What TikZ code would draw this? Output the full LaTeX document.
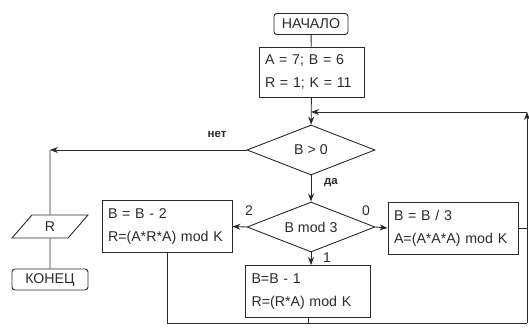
\documentclass[tikz,border=0pt]{standalone}
\usepackage{fontspec}
\setmainfont{Liberation Sans}
\usetikzlibrary{shapes.geometric,arrows.meta}

\definecolor{ink}{HTML}{2A2A2A}

\tikzset{
  base/.style={draw=ink, line width=0.9pt, text=ink, font=\fontsize{14.2}{23}\selectfont, inner sep=0pt},
  terminal/.style={base, rounded corners=3pt, minimum width=#1, minimum height=21},
  procbox/.style={base, rectangle, minimum width=130, minimum height=52, text width=118, align=left},
  decision/.style={base, diamond, minimum width=128, minimum height=50, aspect=2.56},
  iobox/.style={base, trapezium, trapezium left angle=60, trapezium right angle=120,
                trapezium stretches=true, minimum width=76, minimum height=23},
  link/.style={draw=ink, line width=0.9pt},
  flow/.style={link, -{Stealth[length=8pt,width=6pt]}},
  lbl/.style={text=ink, font=\fontsize{14}{16}\selectfont, inner sep=0pt},
  blbl/.style={text=ink, font=\bfseries\fontsize{11.5}{14}\selectfont, inner sep=0pt}
}

\begin{document}
\begin{tikzpicture}[x=1pt, y=-1pt]
  \useasboundingbox (0,0) rectangle (529,331);

  % blocks
  \node[terminal=74] (start) at (311,24) {НАЧАЛО};
  \node[procbox, minimum width=105, minimum height=50, text width=93] (init) at (311.5,72)
       {A = 7; B = 6\\R = 1; K = 11};
  \node[decision] (test) at (311,150) {B > 0};
  \node[decision] (mod) at (311,227) {B mod 3};
  \node[procbox] (zero) at (453,228) {B = B / 3\\A=(A*A*A) mod K};
  \node[procbox] (two) at (167,226.5) {B = B - 2\\R=(A*R*A) mod K};
  \node[procbox, minimum width=125, text width=113] (one) at (308,291.5) {B=B - 1\\R=(R*A) mod K};
  \node[iobox] (out) at (50,226.5) {R};
  \node[terminal=76] (stop) at (50,279.5) {КОНЕЦ};

  % junction points
  \coordinate (join) at (311,112);
  \coordinate (nocorner) at (50,150);
  \coordinate (rt) at (527,112);
  \coordinate (rz) at (527,228);
  \coordinate (rb) at (527,323);
  \coordinate (twob) at (167,323);
  \coordinate (oneb) at (308,323);

  % main flow
  \draw[link] (start) -- (init);
  \draw[flow] (init) -- (test);
  \draw[flow] (test) -- (mod);
  \draw[flow] (test.west) -- (nocorner);
  \draw[link] (nocorner) -- (out.north);
  \draw[link] (out) -- (stop);
  \draw[flow] (mod.east) -- (zero.west);
  \draw[flow] (mod.west) -- (two.east);
  \draw[flow] (mod.south) -- (one.north -| mod.south);

  % return loop
  \draw[link] (two.south) -- (twob) -- (rb);
  \draw[link] (one.south) -- (oneb);
  \draw[link] (zero.east) -- (rz);
  \draw[flow] (rb) -- (rt);
  \draw[flow] (rt) -- (join);

  % branch labels
  \node[blbl] (lno) at (217,134) {нет};
  \node[blbl] (lyes) at (331,183) {да};
  \node[lbl] (l2) at (249,211) {2};
  \node[lbl] (l0) at (366,211) {0};
  \node[lbl] (l1) at (327,258) {1};
\end{tikzpicture}
\end{document}
